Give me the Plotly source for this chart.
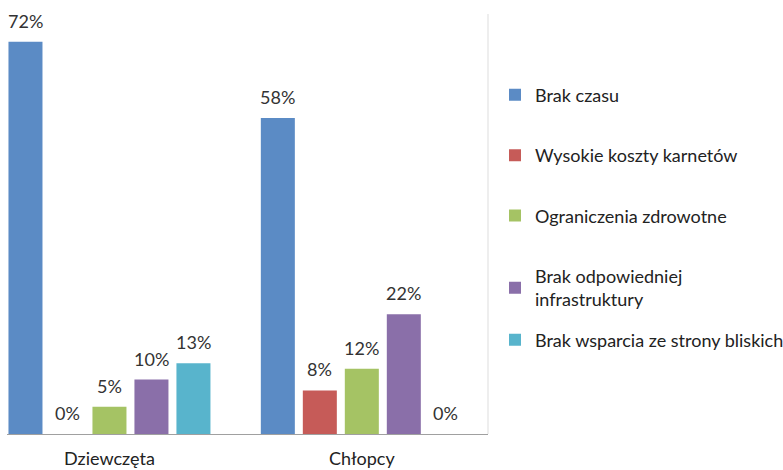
import plotly.graph_objects as go

categories = ["Dziewczęta", "Chłopcy"]
series_names = [
    "Brak czasu",
    "Wysokie koszty karnetów",
    "Ograniczenia zdrowotne",
    "Brak odpowiedniej<br>infrastruktury",
    "Brak wsparcia ze strony bliskich",
]
brak_czasu = [72, 58]
wysokie_koszty = [0, 8]
ograniczenia = [5, 12]
infrastruktura = [10, 22]
wsparcie = [13, 0]
values = [brak_czasu, wysokie_koszty, ograniczenia, infrastruktura, wsparcie]
colors = ["#5B8BC5", "#C65B58", "#A5C364", "#8A6FA9", "#58B4CC"]

FONT = "Lato"
FS = 18
n = len(series_names)
fig = go.Figure()
for i, (name, vals, col) in enumerate(zip(series_names, values, colors)):
    fig.add_trace(go.Bar(
        x=categories, y=vals, name=name, marker_color=col,
        marker_line_width=0, legendgroup=str(i),
        legend="legend2" if i == n - 1 else "legend",
    ))

# data labels above each bar
step = 42
for i, vals in enumerate(values):
    for c, v in zip(categories, vals):
        fig.add_annotation(
            x=c, y=v, xref="x", yref="y", text=f"{v}%", showarrow=False,
            xshift=(i - (n - 1) / 2) * step, yshift=21,
            font=dict(family=FONT, size=FS, color="#333333"),
        )

fig.add_shape(type="line", xref="paper", yref="paper", x0=1, x1=1, y0=0, y1=1,
              line=dict(color="#DDDDDD", width=1))

legend_common = dict(
    xref="container", yref="container", x=495 / 783, xanchor="left",
    yanchor="top", tracegroupgap=34, maxheight=450,
    font=dict(family=FONT, size=FS, color="#222222"),
    itemwidth=30, bgcolor="rgba(0,0,0,0)",
)

fig.update_layout(
    width=783, height=470,
    margin=dict(l=7, r=295, t=14, b=36, autoexpand=False),
    paper_bgcolor="white", plot_bgcolor="white",
    barmode="group", bargap=0.168, bargroupgap=0.19,
    font=dict(family=FONT, size=FS, color="#222222"),
    showlegend=True,
    legend=dict(y=1 - 76.6 / 470, **legend_common),
    legend2=dict(y=1 - 321.6 / 470, **legend_common),
    xaxis=dict(range=[-0.406, 1.5], showline=True, linecolor="#A0A0A0",
               linewidth=1, ticks="", showgrid=False, ticklabelstandoff=8,
               tickfont=dict(family=FONT, size=FS, color="#222222")),
    yaxis=dict(range=[0, 77.1], visible=False, showgrid=False),
)

fig.write_html("out.html", config={"displayModeBar": False},
               post_script="document.body.style.margin='0';")
